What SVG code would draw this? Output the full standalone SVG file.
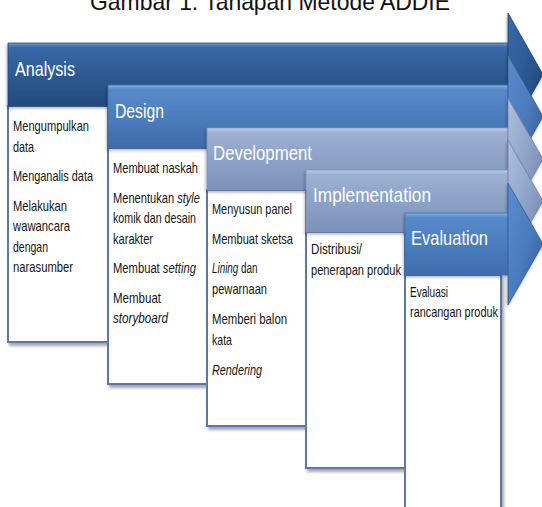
<svg xmlns="http://www.w3.org/2000/svg" width="542" height="507" viewBox="0 0 542 507">
  <style>
    .title { font-family: "Liberation Sans", Arial, sans-serif; font-size: 24px; fill: #111; }
    .lbl { font-family: "Liberation Sans", Arial, sans-serif; font-size: 21px; fill: #ffffff; }
    .txt { font-family: "Liberation Sans", Arial, sans-serif; font-size: 14.5px; fill: #141414; }
    .it { font-style: italic; }
    .box { fill: #ffffff; stroke: #5B78A6; stroke-width: 2; filter: url(#shadow); }
    .edge { stroke-width: 0.8; stroke-linejoin: round; }
  </style>
  <defs>
    <filter id="shadow" x="-10%" y="-10%" width="125%" height="125%">
      <feDropShadow dx="2" dy="3" stdDeviation="1.5" flood-color="#000" flood-opacity="0.35"/>
    </filter>
    <filter id="soft" x="-10%" y="-20%" width="125%" height="150%">
      <feDropShadow dx="-1" dy="2" stdDeviation="1.5" flood-color="#000" flood-opacity="0.3"/>
    </filter>
    <!-- bar fills: bright bevel at the top, darker towards the bottom -->
    <linearGradient id="barA" x1="0" y1="0" x2="0" y2="1">
      <stop offset="0" stop-color="#6A97D0"/>
      <stop offset="0.07" stop-color="#3868A6"/>
      <stop offset="0.5" stop-color="#2D5A92"/>
      <stop offset="1" stop-color="#244A7B"/>
    </linearGradient>
    <linearGradient id="barB" x1="0" y1="0" x2="0" y2="1">
      <stop offset="0" stop-color="#8AB0E2"/>
      <stop offset="0.07" stop-color="#5889C9"/>
      <stop offset="0.5" stop-color="#4C7DBE"/>
      <stop offset="1" stop-color="#3F6AA6"/>
    </linearGradient>
    <linearGradient id="barC" x1="0" y1="0" x2="0" y2="1">
      <stop offset="0" stop-color="#C3D0E8"/>
      <stop offset="0.07" stop-color="#9CB0D2"/>
      <stop offset="0.5" stop-color="#8DA2C7"/>
      <stop offset="1" stop-color="#7D92B8"/>
    </linearGradient>
    <linearGradient id="barE" x1="0" y1="0" x2="0" y2="1">
      <stop offset="0" stop-color="#88B0E4"/>
      <stop offset="0.07" stop-color="#578ACB"/>
      <stop offset="0.5" stop-color="#4B7DC0"/>
      <stop offset="1" stop-color="#3E6CAB"/>
    </linearGradient>
    <!-- arrow head fills: lit from the upper left -->
    <linearGradient id="headA" x1="0" y1="0" x2="1" y2="1">
      <stop offset="0" stop-color="#3A6BA9"/>
      <stop offset="0.5" stop-color="#2B5890"/>
      <stop offset="1" stop-color="#1D3F6C"/>
    </linearGradient>
    <linearGradient id="headB" x1="0" y1="0" x2="1" y2="1">
      <stop offset="0" stop-color="#5B8BCB"/>
      <stop offset="0.5" stop-color="#4A7ABB"/>
      <stop offset="1" stop-color="#31598F"/>
    </linearGradient>
    <linearGradient id="headC" x1="0" y1="0" x2="1" y2="1">
      <stop offset="0" stop-color="#AFC0DD"/>
      <stop offset="0.5" stop-color="#8EA3C8"/>
      <stop offset="1" stop-color="#6C80A6"/>
    </linearGradient>
    <linearGradient id="headE" x1="0" y1="0" x2="1" y2="1">
      <stop offset="0" stop-color="#5B8ECF"/>
      <stop offset="0.5" stop-color="#4A7CC0"/>
      <stop offset="1" stop-color="#2F5B97"/>
    </linearGradient>
  </defs>

  <rect x="0" y="0" width="542" height="507" fill="#ffffff"/>

  <!-- caption, partly above the top edge -->
  <text class="title" x="90" y="10" textLength="360" lengthAdjust="spacingAndGlyphs">Gambar 1. Tahapan Metode ADDIE</text>

  <!-- Analysis -->
  <g id="analysis">
    <rect class="box" x="8" y="106" width="100" height="236"/>
    <g filter="url(#soft)">
      <rect x="8" y="43" width="500" height="63" fill="url(#barA)" stroke="#244A7B" class="edge"/>
      <path d="M508,43 V13 L543,74.5 L508,136 V106 Z" fill="url(#headA)" stroke="#1D3F6C" class="edge"/>
    </g>
    <text class="lbl" x="15" y="76" textLength="60" lengthAdjust="spacingAndGlyphs">Analysis</text>
    <text class="txt" x="13" y="131" textLength="76" lengthAdjust="spacingAndGlyphs">Mengumpulkan</text>
    <text class="txt" x="13" y="151.5" textLength="21" lengthAdjust="spacingAndGlyphs">data</text>
    <text class="txt" x="13" y="181" textLength="80" lengthAdjust="spacingAndGlyphs">Menganalis data</text>
    <text class="txt" x="13" y="210.5" textLength="54" lengthAdjust="spacingAndGlyphs">Melakukan</text>
    <text class="txt" x="13" y="231" textLength="57" lengthAdjust="spacingAndGlyphs">wawancara</text>
    <text class="txt" x="13" y="251.5" textLength="35" lengthAdjust="spacingAndGlyphs">dengan</text>
    <text class="txt" x="13" y="272" textLength="60" lengthAdjust="spacingAndGlyphs">narasumber</text>
  </g>

  <!-- Design -->
  <g id="design">
    <rect class="box" x="108" y="148" width="100" height="236"/>
    <g filter="url(#soft)">
      <rect x="108" y="85" width="400" height="63" fill="url(#barB)" stroke="#3F6AA6" class="edge"/>
      <path d="M508,85 V55 L543,116.5 L508,178 V148 Z" fill="url(#headB)" stroke="#31598F" class="edge"/>
    </g>
    <text class="lbl" x="115" y="118" textLength="49" lengthAdjust="spacingAndGlyphs">Design</text>
    <text class="txt" x="113" y="173" textLength="85" lengthAdjust="spacingAndGlyphs">Membuat naskah</text>
    <text class="txt" transform="translate(113 202.5) scale(0.766 1)" x="0" y="0">Menentukan <tspan class="it">style</tspan></text>
    <text class="txt" x="113" y="223" textLength="83" lengthAdjust="spacingAndGlyphs">komik dan desain</text>
    <text class="txt" x="113" y="243.5" textLength="40" lengthAdjust="spacingAndGlyphs">karakter</text>
    <text class="txt" transform="translate(113 273) scale(0.774 1)" x="0" y="0">Membuat <tspan class="it">setting</tspan></text>
    <text class="txt" x="113" y="302.5" textLength="48" lengthAdjust="spacingAndGlyphs">Membuat</text>
    <text class="txt it" x="113" y="323" textLength="55" lengthAdjust="spacingAndGlyphs">storyboard</text>
  </g>

  <!-- Development -->
  <g id="development">
    <rect class="box" x="207" y="190" width="99" height="236"/>
    <g filter="url(#soft)">
      <rect x="207" y="128" width="301" height="62" fill="url(#barC)" stroke="#7D92B8" class="edge"/>
      <path d="M508,128 V98 L543,159 L508,220 V190 Z" fill="url(#headC)" stroke="#6C80A6" class="edge"/>
    </g>
    <text class="lbl" x="213" y="160" textLength="99" lengthAdjust="spacingAndGlyphs">Development</text>
    <text class="txt" x="212" y="214" textLength="80" lengthAdjust="spacingAndGlyphs">Menyusun panel</text>
    <text class="txt" x="212" y="243.5" textLength="81" lengthAdjust="spacingAndGlyphs">Membuat sketsa</text>
    <text class="txt" transform="translate(212 273) scale(0.68 1)" x="0" y="0"><tspan class="it">Lining</tspan> dan</text>
    <text class="txt" x="212" y="293.5" textLength="55" lengthAdjust="spacingAndGlyphs">pewarnaan</text>
    <text class="txt" x="212" y="324" textLength="75" lengthAdjust="spacingAndGlyphs">Memberi balon</text>
    <text class="txt" x="212" y="344.5" textLength="20" lengthAdjust="spacingAndGlyphs">kata</text>
    <text class="txt it" x="212" y="375" textLength="50" lengthAdjust="spacingAndGlyphs">Rendering</text>
  </g>

  <!-- Implementation -->
  <g id="implementation">
    <rect class="box" x="306" y="232" width="99" height="236"/>
    <g filter="url(#soft)">
      <rect x="306" y="170" width="202" height="62" fill="url(#barC)" stroke="#7D92B8" class="edge"/>
      <path d="M508,170 V140 L543,201 L508,262 V232 Z" fill="url(#headC)" stroke="#6C80A6" class="edge"/>
    </g>
    <text class="lbl" x="313" y="202" textLength="118" lengthAdjust="spacingAndGlyphs">Implementation</text>
    <text class="txt" x="311" y="254" textLength="51" lengthAdjust="spacingAndGlyphs">Distribusi/</text>
    <text class="txt" x="311" y="275" textLength="90" lengthAdjust="spacingAndGlyphs">penerapan produk</text>
  </g>

  <!-- Evaluation -->
  <g id="evaluation">
    <rect class="box" x="405" y="275" width="96" height="240"/>
    <g filter="url(#soft)">
      <rect x="405" y="213" width="103" height="62" fill="url(#barE)" stroke="#3E6CAB" class="edge"/>
      <path d="M508,213 V183 L543,244 L508,305 V275 Z" fill="url(#headE)" stroke="#2F5B97" class="edge"/>
    </g>
    <text class="lbl" x="411" y="245" textLength="77" lengthAdjust="spacingAndGlyphs">Evaluation</text>
    <text class="txt" x="410" y="297" textLength="38" lengthAdjust="spacingAndGlyphs">Evaluasi</text>
    <text class="txt" x="410" y="317" textLength="88" lengthAdjust="spacingAndGlyphs">rancangan produk</text>
  </g>

  <!-- the stages are chained by their own arrow shapes; no separate connectors -->
  <g id="connectors"/>
</svg>
